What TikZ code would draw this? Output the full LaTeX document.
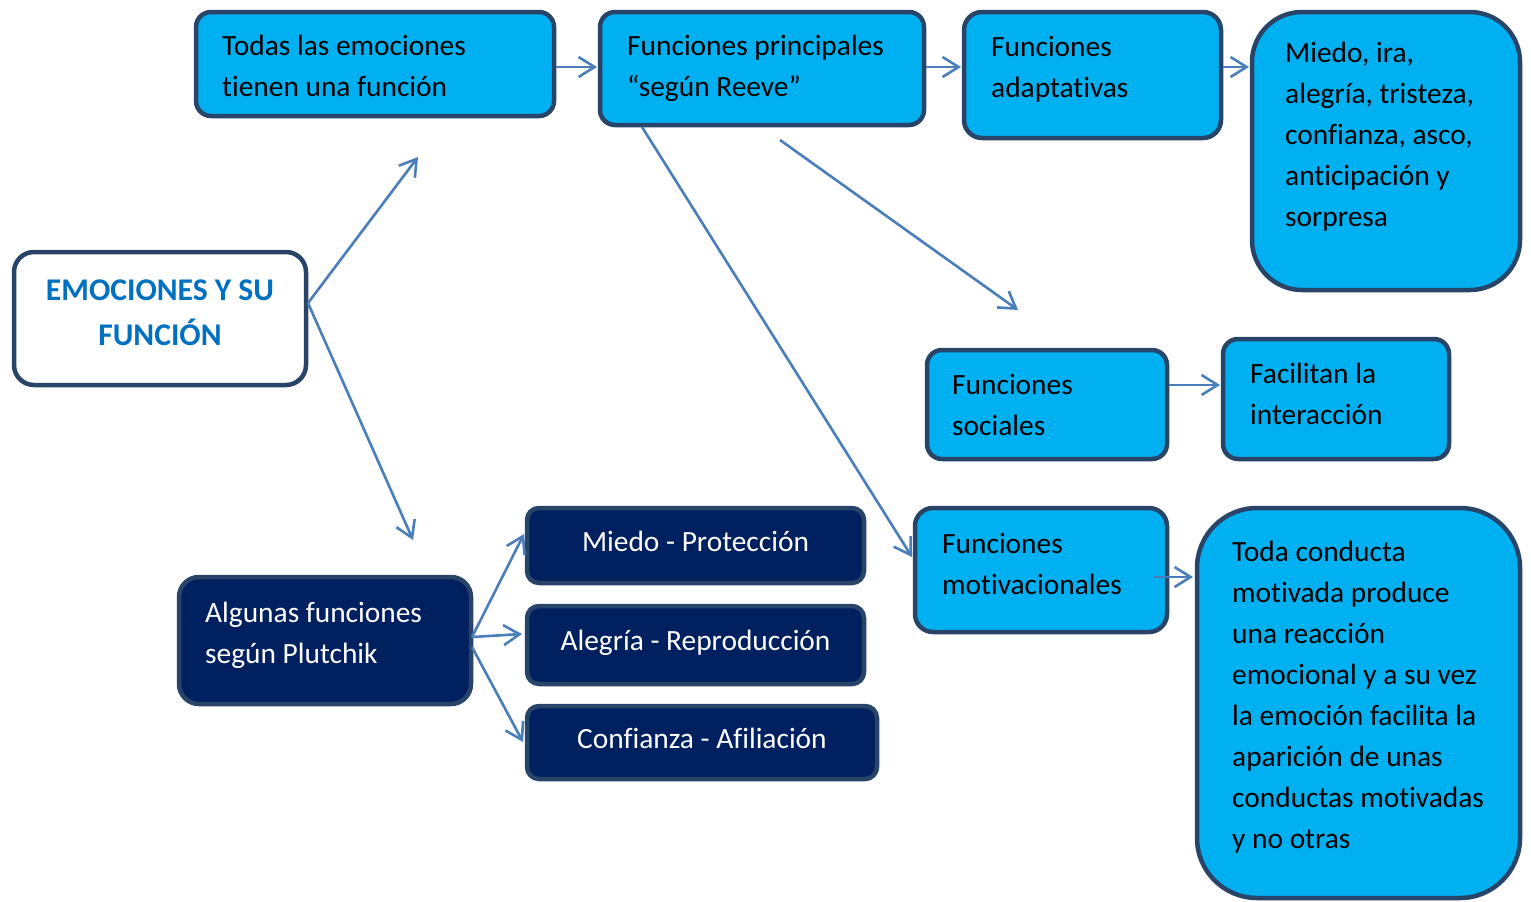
\documentclass[tikz,border=0pt]{standalone}
\usepackage{fontspec}
\setmainfont{Carlito}[Ligatures=NoCommon]
\usetikzlibrary{arrows.meta,calc}
\definecolor{cyanfill}{HTML}{00B0F0}
\definecolor{navyfill}{HTML}{002060}
\definecolor{boxline}{RGB}{40,68,104}
\definecolor{conncol}{HTML}{4A7EBB}
\definecolor{titleblue}{HTML}{0070C0}
\begin{document}
\begin{tikzpicture}[x=1pt,y=-1pt,
  box/.style={draw=boxline, line width=4.5pt, rounded corners=#1, inner sep=0pt, outer sep=0pt},
  cbox/.style={box=#1, fill=cyanfill},
  nbox/.style={box=#1, fill=navyfill, text=white, font=\fontsize{29.4}{41}\selectfont, text height=20pt, text depth=9pt},
  wbox/.style={box=#1, fill=white},
  txt/.style={inner sep=0pt, anchor=base west, align=flush left, text width=#1, font=\fontsize{29.4}{41}\selectfont},
  conn/.style={draw=conncol, line width=2.6pt, -{Straight Barb[length=16pt,width=20pt]}}
]
\useasboundingbox (0,0) rectangle (1531,902);

% boxes
\node[cbox=15pt, minimum width=358pt, minimum height=104pt] (b1) at (375,64) {};
\node[cbox=15pt, minimum width=324pt, minimum height=113pt] (b2) at (762,68.5) {};
\node[cbox=18pt, minimum width=257pt, minimum height=126pt] (b3) at (1092.5,75) {};
\node[cbox=50pt, minimum width=268pt, minimum height=278pt] (b4) at (1386,151) {};
\node[wbox=20pt, minimum width=292pt, minimum height=133pt] (b0) at (160,318.5) {};
\node[cbox=15pt, minimum width=240pt, minimum height=109pt] (b5) at (1047,404.5) {};
\node[cbox=15pt, minimum width=226pt, minimum height=120pt] (b6) at (1336,399) {};
\node[cbox=18pt, minimum width=252pt, minimum height=124pt] (b7) at (1041,570) {};
\node[cbox=60pt, minimum width=323pt, minimum height=390pt] (b8) at (1358.5,703) {};
\node[nbox=20pt, minimum width=292pt, minimum height=127pt] (b9) at (325,640.5) {};
\node[nbox=12pt, minimum width=337pt, minimum height=75pt] (b10) at (695.5,545.5) {Miedo - Protección};
\node[nbox=12pt, minimum width=337pt, minimum height=78pt] (b11) at (695.5,645) {Alegría - Reproducción};
\node[nbox=12pt, minimum width=350pt, minimum height=73pt] (b12) at (702,742.5) {Confianza - Afiliación};

% texts
\node[txt=320pt] (t1) at (222,55) {Todas las emociones\\tienen una función};
\node[txt=290pt] (t2) at (627,55) {Funciones principales\\“según Reeve”};
\node[txt=220pt] (t3) at (991,56) {Funciones\\adaptativas};
\node[txt=230pt] (t4) at (1285,62) {Miedo, ira,\\alegría, tristeza,\\confianza, asco,\\anticipación y\\sorpresa};
\node[inner sep=0pt, anchor=base, align=flush center, text width=280pt, text=titleblue,
      font=\fontsize{31.6}{45}\selectfont\bfseries] (t0) at (160,300) {EMOCIONES Y SU\\FUNCIÓN};
\node[txt=200pt] (t5) at (952,394) {Funciones\\sociales};
\node[txt=190pt] (t6) at (1250,383) {Facilitan la\\interacción};
\node[txt=220pt] (t7) at (942,553) {Funciones\\motivacionales};
\node[txt=280pt] (t8) at (1232,561) {Toda conducta\\motivada produce\\una reacción\\emocional y a su vez\\la emoción facilita la\\aparición de unas\\conductas motivadas\\y no otras};
\node[txt=260pt, text=white] (t9) at (205,622) {Algunas funciones\\según Plutchik};

% free ends
\coordinate (e1) at (418,157);
\coordinate (e2) at (413,540);
\coordinate (s3) at (780,140);
\coordinate (e3) at (1018,310);

% connectors
\draw[conn] ($(b1.east)+(2,3)$) -- ($(b2.west)+(-3,-1.5)$);
\draw[conn] ($(b2.east)+(2,-1.5)$) -- ($(b3.west)+(-3,-8)$);
\draw[conn] ($(b3.east)+(2,-8)$) -- ($(b4.west)+(-3,-84)$);
\draw[conn] ($(b0.east)+(2,-15.5)$) -- (e1);
\draw[conn] ($(b0.east)+(2,-15.5)$) -- (e2);
\draw[conn] ($(b2.south west)+(42,2)$) -- ($(b7.west)+(-3,-13)$);
\draw[conn] (s3) -- (e3);
\draw[conn] ($(b5.east)+(2,-19.5)$) -- ($(b6.west)+(-3,-14)$);
\draw[conn] ($(b7.east)+(-14,7)$) -- ($(b8.west)+(-4,-126)$);
\draw[conn] ($(b9.east)+(1,-3.5)$) -- ($(b10.west)+(-3,-11.5)$);
\draw[conn] ($(b9.east)+(1,-3.5)$) -- ($(b11.west)+(-5,-11)$);
\draw[conn] ($(b9.east)+(1,6.5)$) -- ($(b12.west)+(-4,-0.5)$);
\end{tikzpicture}
\end{document}
